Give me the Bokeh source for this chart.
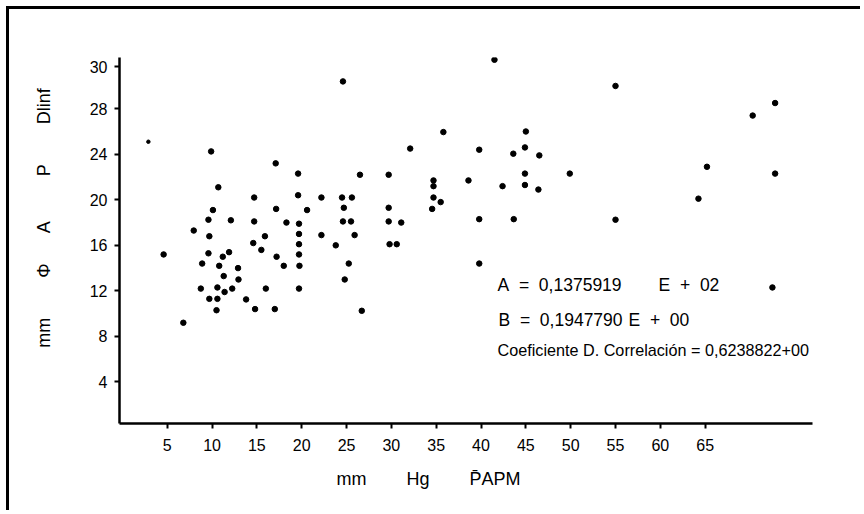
import numpy as np
from bokeh.plotting import figure
from bokeh.models import Range1d, FixedTicker, Label
from bokeh.embed import file_html
from bokeh.resources import INLINE

# PAPM (mm Hg) values
x_papm = [24.6, 9.9, 17.1, 19.6, 26.5, 29.7, 32.1, 10.7, 14.7, 19.6,
          22.2, 24.5, 25.6, 10.1, 17.15, 20.6, 24.7, 29.7, 9.6, 12.1,
          14.7, 18.3, 19.7, 24.6, 25.5, 29.7, 31.1, 7.96, 9.7, 15.9,
          19.7, 22.2, 25.9, 14.6, 15.5, 19.7, 23.8, 29.8, 30.6, 4.6,
          9.6, 11.9, 11.2, 8.9, 10.8, 12.9, 17.2, 19.7, 18.0, 19.75,
          25.25, 11.3, 12.95, 24.8, 8.75, 10.6, 12.25, 11.4, 16.0, 19.7,
          9.7, 10.6, 13.8, 10.5, 14.8, 17.0, 26.7, 6.8,
          41.5, 55.0, 70.3, 72.8, 35.8, 45.0, 39.8, 43.6, 44.9, 46.5,
          65.2, 34.7, 34.7, 38.6, 42.4, 44.9, 44.9, 46.4, 49.9, 72.8,
          34.7, 35.5, 34.55, 39.8, 43.65, 55.0, 64.25, 39.8, 72.5]
# AP Dlinf (mm) values
y_dlinf = [30.4, 24.25, 23.2, 22.3, 22.2, 22.2, 24.5, 21.1, 20.2, 20.4,
           20.2, 20.2, 20.2, 19.1, 19.2, 19.1, 19.3, 19.3, 18.25, 18.2,
           18.1, 18.0, 17.9, 18.1, 18.1, 18.1, 18.0, 17.3, 16.8, 16.8,
           17.0, 16.9, 16.9, 16.2, 15.6, 16.1, 16.0, 16.1, 16.1, 15.2,
           15.3, 15.4, 15.0, 14.4, 14.2, 14.0, 15.0, 15.2, 14.2, 14.2,
           14.4, 13.3, 13.0, 13.0, 12.2, 12.3, 12.2, 11.9, 12.2, 12.2,
           11.3, 11.3, 11.25, 10.3, 10.4, 10.4, 10.25, 9.2,
           32.3, 30.0, 27.4, 28.5, 25.95, 26.0, 24.4, 24.05, 24.6, 23.9,
           22.9, 21.7, 21.2, 21.7, 21.2, 22.3, 21.3, 20.9, 22.3, 22.3,
           20.2, 19.8, 19.2, 18.3, 18.3, 18.25, 20.1, 14.4, 12.3]
# faint mark near the y axis
stray_x = [2.9]
stray_y = [25.1]

x_ticks = [5, 10, 15, 20, 25, 30, 35, 40, 45, 50, 55, 60, 65]
y_ticks = [4, 8, 12, 16, 20, 24, 28, 31.7]
y_tick_labels = ["4", "8", "12", "16", "20", "24", "28", "30"]

NB = "\u00a0"
line_a = ["A" + NB * 2 + "=" + NB * 2 + "0,1375919", "E" + NB * 2 + "+" + NB * 2 + "02"]
line_b = ["B" + NB * 2 + "=" + NB * 2 + "0,1947790", "E" + NB * 2 + "+" + NB * 2 + "00"]
line_c = "Coeficiente D. Correlación = 0,6238822+00"
x_title = (NB * 8).join(["mm", "Hg", "P\u0304APM"]) + NB * 15
y_title = NB * 9 + "mm" + NB * 8 + "Φ" + NB * 6 + "A" + NB * 9 + "P" + NB * 8 + "Dlinf"

FONT = "Liberation Sans"

p = figure(width=854, height=504, output_backend="svg", toolbar_location=None,
           x_range=Range1d(-0.32, 76.97), y_range=Range1d(0.35, 32.5),
           min_border_left=110, min_border_right=51, min_border_top=48,
           min_border_bottom=90)
p.styles = {"margin-left": "6px", "margin-top": "6px",
            "border-top": "3px solid black", "border-left": "3px solid black"}
p.xgrid.visible = False
p.ygrid.visible = False
p.outline_line_color = None
p.background_fill_color = "white"
p.border_fill_color = "white"

for ax in (p.xaxis, p.yaxis):
    ax.axis_line_color = "black"
    ax.axis_line_width = 2.5
    ax.major_tick_line_color = "black"
    ax.major_tick_line_width = 2
    ax.major_tick_in = 0
    ax.major_tick_out = 5
    ax.minor_tick_line_color = None
    ax.major_label_text_font = FONT
    ax.major_label_text_font_size = "16px"
    ax.major_label_text_color = "black"
    ax.axis_label_text_font = FONT
    ax.axis_label_text_font_size = "18px"
    ax.axis_label_text_font_style = "normal"
    ax.axis_label_text_color = "black"

p.xaxis.ticker = FixedTicker(ticks=x_ticks)
p.xaxis.major_label_standoff = 10
p.xaxis.axis_label = x_title
p.xaxis.axis_label_standoff = 15
p.yaxis.ticker = FixedTicker(ticks=y_ticks)
p.yaxis.major_label_overrides = {t: l for t, l in zip(y_ticks, y_tick_labels)}
p.yaxis.major_label_standoff = 7
p.yaxis.axis_label = y_title
p.yaxis.axis_label_standoff = 33

p.scatter(x_papm, y_dlinf, size=5.5, color="black")
p.scatter(stray_x, stray_y, size=3.5, color="black")

def lab(x, y, text, size="17.5px", **kw):
    p.add_layout(Label(x=x, y=y, text=text, text_font=FONT, text_font_size=size,
                       text_color="black", **kw))

lab(41.84, 11.65, line_a[0])
lab(59.8, 11.65, line_a[1])
lab(41.95, 8.55, line_b[0])
lab(56.45, 8.55, line_b[1])
lab(41.84, 6.0, line_c, size="16.2px")

open("out.html", "w").write(file_html(p, INLINE))
